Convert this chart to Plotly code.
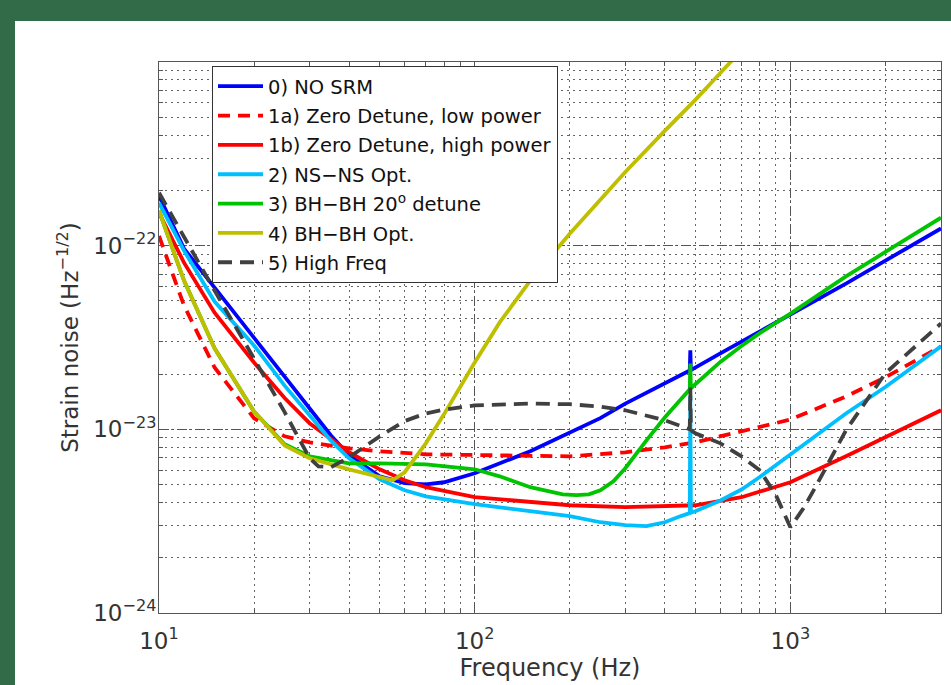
import plotly.graph_objects as go

# ---------------- data ----------------
f_nosrm = [10, 12, 15, 20, 25, 30, 35, 40, 50, 60, 70, 80, 100, 150, 200, 250, 300, 400,
           480, 482, 484, 600, 800, 1000, 1500, 2000, 3000]
h_nosrm = [1.87e-22, 9.63e-23, 5.91e-23, 3.16e-23, 1.92e-23, 1.30e-23, 9.28e-24, 7.22e-24,
           5.55e-24, 5.09e-24, 5.02e-24, 5.15e-24, 5.77e-24, 7.59e-24, 9.63e-24, 1.15e-23,
           1.38e-23, 1.78e-23, 2.09e-23, 2.69e-23, 2.10e-23, 2.59e-23, 3.41e-23, 4.17e-23,
           6.22e-23, 8.29e-23, 1.24e-22]

f_zd_low = [10, 12, 15, 20, 25, 30, 40, 50, 70, 100, 150, 200, 300, 400, 500, 700, 1000,
            1500, 2000, 3000]
h_zd_low = [1.13e-22, 4.72e-23, 2.17e-23, 1.15e-23, 9.16e-24, 8.50e-24, 7.88e-24, 7.59e-24,
            7.31e-24, 7.22e-24, 7.13e-24, 7.13e-24, 7.50e-24, 7.98e-24, 8.50e-24, 9.75e-24,
            1.13e-23, 1.51e-23, 1.92e-23, 2.83e-23]

f_zd_high = [10, 12, 15, 20, 25, 30, 40, 50, 60, 70, 100, 150, 200, 300, 400, 500, 700, 1000,
             1500, 2000, 3000]
h_zd_high = [1.51e-22, 8.08e-23, 4.32e-23, 2.31e-23, 1.48e-23, 1.08e-23, 7.50e-24, 6.06e-24,
             5.28e-24, 4.84e-24, 4.27e-24, 4.01e-24, 3.86e-24, 3.77e-24, 3.82e-24, 3.86e-24,
             4.27e-24, 5.15e-24, 7.13e-24, 9.05e-24, 1.27e-23]

f_nsns = [10, 12, 15, 20, 25, 30, 35, 40, 50, 60, 70, 100, 150, 200, 250, 300, 350, 400, 450,
          480, 482, 484, 500, 600, 700, 800, 1000, 1500, 2000, 3000]
h_nsns = [1.71e-22, 9.39e-23, 4.96e-23, 2.86e-23, 1.73e-23, 1.19e-23, 8.71e-24, 6.96e-24,
          5.35e-24, 4.66e-24, 4.32e-24, 3.91e-24, 3.58e-24, 3.37e-24, 3.12e-24, 3.01e-24,
          2.97e-24, 3.12e-24, 3.37e-24, 3.50e-24, 1.53e-23, 3.52e-24, 3.58e-24, 4.10e-24,
          4.70e-24, 5.50e-24, 7.30e-24, 1.22e-23, 1.70e-23, 2.83e-23]

f_bhbh20 = [10, 12, 15, 20, 25, 30, 40, 50, 70, 100, 120, 150, 190, 210, 230, 250, 275, 300,
            350, 400, 450, 480, 482, 484, 500, 600, 700, 800, 1000, 1500, 2000, 3000]
h_bhbh20 = [1.55e-22, 6.45e-23, 2.76e-23, 1.25e-23, 8.29e-24, 7.13e-24, 6.53e-24, 6.53e-24,
            6.45e-24, 6.06e-24, 5.55e-24, 4.84e-24, 4.43e-24, 4.38e-24, 4.43e-24, 4.66e-24,
            5.22e-24, 6.14e-24, 8.71e-24, 1.16e-23, 1.46e-23, 1.65e-23, 2.28e-23, 1.67e-23,
            1.76e-23, 2.33e-23, 2.84e-23, 3.34e-23, 4.27e-23, 6.80e-23, 9.24e-23, 1.42e-22]

f_bhbh = [10, 12, 15, 20, 25, 30, 40, 50, 55, 60, 70, 80, 100, 120, 150, 200, 250, 300, 400,
          500, 600, 700]
h_bhbh = [1.55e-22, 6.45e-23, 2.76e-23, 1.25e-23, 8.18e-24, 6.96e-24, 6.06e-24, 5.48e-24,
          5.28e-24, 5.84e-24, 8.39e-24, 1.21e-23, 2.31e-23, 3.82e-23, 6.45e-23, 1.16e-22,
          1.78e-22, 2.52e-22, 4.22e-22, 6.22e-22, 8.71e-22, 1.16e-21]

f_hf = [10, 12, 15, 20, 25, 30, 32, 35, 40, 50, 60, 70, 80, 100, 150, 200, 250, 300, 400,
        480, 482, 484, 500, 600, 700, 800, 900, 1000, 1100, 1200, 1500, 2000, 2500, 3000]
h_hf = [1.94e-22, 1.11e-22, 5.69e-23, 2.43e-23, 1.24e-23, 6.96e-24, 6.29e-24, 6.21e-24,
        7.04e-24, 9.16e-24, 1.11e-23, 1.22e-23, 1.28e-23, 1.35e-23, 1.38e-23, 1.37e-23,
        1.33e-23, 1.27e-23, 1.12e-23, 1.00e-23, 1.69e-23, 9.90e-24, 9.51e-24, 8.39e-24,
        7.13e-24, 5.98e-24, 4.38e-24, 2.93e-24, 3.72e-24, 4.84e-24, 9.88e-24, 2.02e-23,
        2.86e-23, 3.77e-23]

names = ["0) NO SRM", "1a) Zero Detune, low power", "1b) Zero Detune, high power",
         "2) NS\u2212NS Opt.", "3) BH\u2212BH 20<sup>o</sup> detune", "4) BH\u2212BH Opt.",
         "5) High Freq"]

x_tickvals = [10, 100, 1000]
x_ticktext = ["10<sup>1</sup>", "10<sup>2</sup>", "10<sup>3</sup>"]
y_tickvals = [1e-24, 1e-23, 1e-22]
y_ticktext = ["10<sup>\u221224</sup>", "10<sup>\u221223</sup>", "10<sup>\u221222</sup>"]

# ---------------- styling ----------------
series = [
    (f_nosrm, h_nosrm, "#0000ff", "solid"),
    (f_zd_low, h_zd_low, "#ff0000", "12px,8px"),
    (f_zd_high, h_zd_high, "#ff0000", "solid"),
    (f_nsns, h_nsns, "#00bfff", "solid"),
    (f_bhbh20, h_bhbh20, "#00c400", "solid"),
    (f_bhbh, h_bhbh, "#bfbf00", "solid"),
    (f_hf, h_hf, "#404040", "14px,8px"),
]

FONT = "DejaVu Sans, Liberation Sans, Arial, sans-serif"

fig = go.Figure()
for i, ((fx, hy, col, dash), nm) in enumerate(zip(series, names)):
    fig.add_trace(go.Scatter(x=fx, y=hy, mode="lines", name=nm, legendgroup=f"g{i}",
                             line=dict(color=col, width=3.8, dash=dash)))

W, H = 951, 685
ml, mr, mt, mb = 159, 10, 62, 72
pw, ph = W - ml - mr, H - mt - mb


def px(x):
    return (x - ml) / pw


def py(y):
    return (H - mb - y) / ph


green = "#326b47"
shapes = [
    dict(type="rect", xref="paper", yref="paper", x0=px(0), x1=px(W), y0=py(21), y1=py(0),
         fillcolor=green, line=dict(width=0), layer="above"),
    dict(type="rect", xref="paper", yref="paper", x0=px(0), x1=px(15), y0=py(H), y1=py(0),
         fillcolor=green, line=dict(width=0), layer="above"),
]

axis_common = dict(
    type="log", showline=True, linecolor="#555555", linewidth=1, mirror="ticks",
    ticks="inside", ticklen=7, tickcolor="#555555",
    showgrid=True, gridcolor="#555555", gridwidth=1, griddash="10px,3px,2px,3px",
    minor=dict(ticks="inside", ticklen=4, tickcolor="#555555", showgrid=True,
               gridcolor="#666666", gridwidth=1, griddash="2px,4px", dtick="D1"),
    tickfont=dict(family=FONT, size=23, color="#333333"),
    zeroline=False,
)

fig.update_layout(
    width=W, height=H,
    margin=dict(l=ml, r=mr, t=mt, b=mb),
    paper_bgcolor="white", plot_bgcolor="white",
    font=dict(family=FONT, color="#333333"),
    shapes=shapes,
    showlegend=True,
    legend=dict(x=px(212), y=py(66), xanchor="left", yanchor="top",
                bgcolor="white", bordercolor="#333333", borderwidth=1,
                font=dict(family=FONT, size=19.5, color="#111111"),
                itemwidth=45, tracegroupgap=1, traceorder="grouped"),
)
fig.update_xaxes(**axis_common, range=[1, 3.4771], tickvals=x_tickvals, ticktext=x_ticktext,
                 ticklabelstandoff=7,
                 title=dict(text="Frequency (Hz)", font=dict(family=FONT, size=24, color="#333333"),
                            standoff=2))
fig.update_yaxes(**axis_common, range=[-24, -21], tickvals=y_tickvals, ticktext=y_ticktext,
                 ticklabelstandoff=-3,
                 title=dict(text="Strain noise (Hz<sup>\u22121/2</sup>)",
                            font=dict(family=FONT, size=23, color="#333333"), standoff=8))

fig.write_html("out.html")
